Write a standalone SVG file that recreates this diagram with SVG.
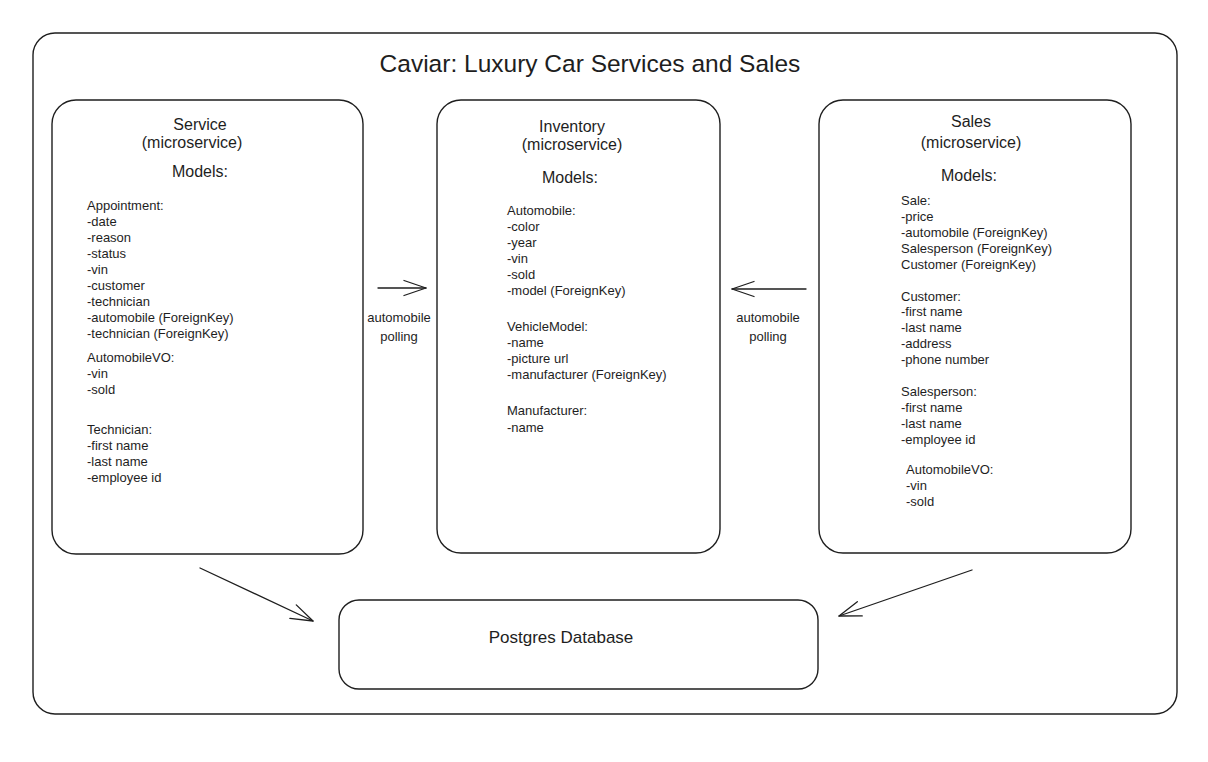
<svg xmlns="http://www.w3.org/2000/svg" width="1208" height="762" viewBox="0 0 1208 762">
<style>
.box{fill:none;stroke:#1e1e1e;stroke-width:1.4}
.t{font-family:"Liberation Sans",Arial,sans-serif;fill:#1e1e1e}
.body{font-size:13px}
.head{font-size:16px;text-anchor:middle}
.title{font-size:24.5px;text-anchor:middle}
.lbl{font-size:13px;text-anchor:middle}
.conn{fill:none;stroke:#1e1e1e;stroke-width:1.3;stroke-linecap:round}
</style>
<defs>
<marker id="ah" viewBox="-24 -10 26 20" refX="0" refY="0" markerWidth="26" markerHeight="20" markerUnits="userSpaceOnUse" orient="auto">
<path d="M-22,-7.5 L0,0 L-22,7.5" fill="none" stroke="#1e1e1e" stroke-width="1.3" stroke-linecap="round" stroke-linejoin="round"/>
</marker>
</defs>
<rect width="1208" height="762" fill="#ffffff"/>

<g id="frame">
<rect class="box" x="33" y="33" width="1144" height="681" rx="22"/>
<text class="t title" x="590" y="72">Caviar: Luxury Car Services and Sales</text>
</g>

<g id="service">
<rect class="box" x="52" y="100" width="311" height="454" rx="24"/>
<text class="t head" x="200" y="130">Service</text>
<text class="t head" x="192" y="148">(microservice)</text>
<text class="t head" x="200" y="177">Models:</text>
<g class="t body">
<text x="87" y="210">Appointment:</text>
<text x="87" y="226">-date</text>
<text x="87" y="242">-reason</text>
<text x="87" y="258">-status</text>
<text x="87" y="274">-vin</text>
<text x="87" y="290">-customer</text>
<text x="87" y="306">-technician</text>
<text x="87" y="322">-automobile (ForeignKey)</text>
<text x="87" y="338">-technician (ForeignKey)</text>
<text x="87" y="362">AutomobileVO:</text>
<text x="87" y="378">-vin</text>
<text x="87" y="394">-sold</text>
<text x="87" y="434">Technician:</text>
<text x="87" y="450">-first name</text>
<text x="87" y="466">-last name</text>
<text x="87" y="482">-employee id</text>
</g>
</g>

<g id="inventory">
<rect class="box" x="437" y="100" width="283" height="453" rx="24"/>
<text class="t head" x="572" y="132">Inventory</text>
<text class="t head" x="572" y="150">(microservice)</text>
<text class="t head" x="570" y="183">Models:</text>
<g class="t body">
<text x="507" y="215">Automobile:</text>
<text x="507" y="231">-color</text>
<text x="507" y="247">-year</text>
<text x="507" y="263">-vin</text>
<text x="507" y="279">-sold</text>
<text x="507" y="295">-model (ForeignKey)</text>
<text x="507" y="331">VehicleModel:</text>
<text x="507" y="347">-name</text>
<text x="507" y="363">-picture url</text>
<text x="507" y="379">-manufacturer (ForeignKey)</text>
<text x="507" y="415">Manufacturer:</text>
<text x="507" y="432">-name</text>
</g>
</g>

<g id="sales">
<rect class="box" x="819" y="100" width="312" height="453" rx="24"/>
<text class="t head" x="971" y="127">Sales</text>
<text class="t head" x="971" y="148">(microservice)</text>
<text class="t head" x="969" y="181">Models:</text>
<g class="t body">
<text x="901" y="205">Sale:</text>
<text x="901" y="221">-price</text>
<text x="901" y="237">-automobile (ForeignKey)</text>
<text x="901" y="253">Salesperson (ForeignKey)</text>
<text x="901" y="269">Customer (ForeignKey)</text>
<text x="901" y="301">Customer:</text>
<text x="901" y="316">-first name</text>
<text x="901" y="332">-last name</text>
<text x="901" y="348">-address</text>
<text x="901" y="364">-phone number</text>
<text x="901" y="396">Salesperson:</text>
<text x="901" y="412">-first name</text>
<text x="901" y="428">-last name</text>
<text x="901" y="444">-employee id</text>
<text x="906" y="474">AutomobileVO:</text>
<text x="906" y="490">-vin</text>
<text x="906" y="506">-sold</text>
</g>
</g>

<g id="database">
<rect class="box" x="339" y="600" width="479" height="89" rx="20"/>
<text class="t" x="561" y="643" font-size="17" text-anchor="middle">Postgres Database</text>
</g>

<g id="connectors">
<line class="conn" x1="378" y1="288" x2="426" y2="288" marker-end="url(#ah)"/>
<line class="conn" x1="806" y1="289" x2="732" y2="289" marker-end="url(#ah)"/>
<line class="conn" x1="200" y1="568" x2="313" y2="621" marker-end="url(#ah)"/>
<line class="conn" x1="972" y1="570" x2="839" y2="616" marker-end="url(#ah)"/>
<text class="t lbl" x="399" y="322">automobile</text>
<text class="t lbl" x="399" y="341">polling</text>
<text class="t lbl" x="768" y="322">automobile</text>
<text class="t lbl" x="768" y="341">polling</text>
</g>
</svg>
